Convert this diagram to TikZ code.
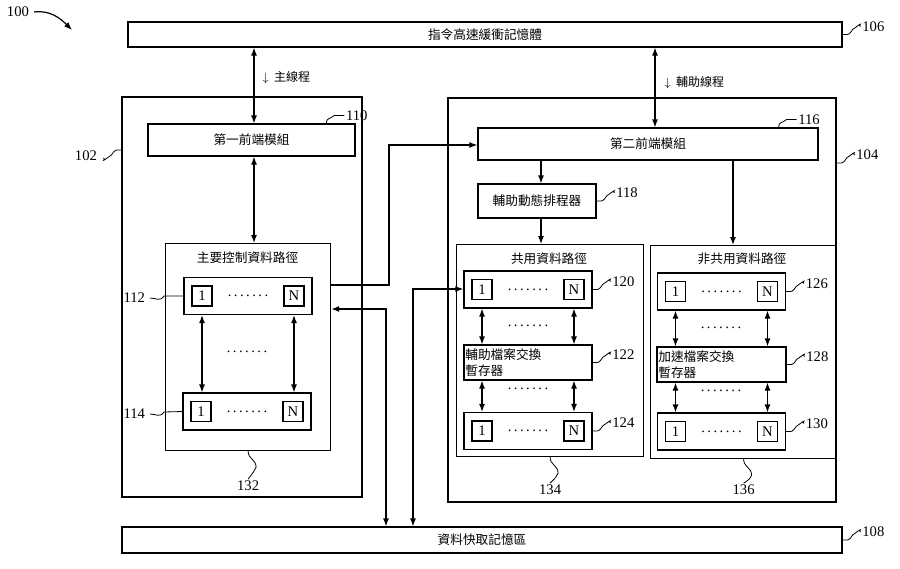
\documentclass[tikz,border=0pt]{standalone}
\usepackage{fontspec}
\setmainfont{Liberation Serif}
\newfontfamily\cjk{Noto Sans CJK TC}
\usetikzlibrary{arrows.meta}
\begin{document}
\begin{tikzpicture}[x=0.75pt,y=-0.75pt,line width=0.9pt,
  box/.style={draw,rectangle,inner sep=0pt,font=\cjk\fontsize{9.5}{12}\selectfont},
  sq/.style={draw,rectangle,minimum size=15pt,inner sep=0pt,font=\fontsize{11}{12}\selectfont},
  num/.style={font=\fontsize{11}{12}\selectfont},
  arr/.style={-{Latex[length=6pt,width=4.5pt]}},
  darr/.style={{Latex[length=6pt,width=4.5pt]}-{Latex[length=6pt,width=4.5pt]}},
  lead/.style={line width=0.6pt}]
\useasboundingbox (0,0) rectangle (900,568);
\fill[white] (0,0) rectangle (900,568);
\newcommand\mkbox[6]{\node[box,minimum width=#4*0.75pt,minimum height=#5*0.75pt] (#1) at (#2,#3) {#6};}
\newcommand\mkrow[3]{%
  \node[draw,rectangle,minimum width=128*0.75pt,minimum height=37*0.75pt,inner sep=0pt] (#1) at (#2,#3) {};
  \node[sq,anchor=west] (#1a) at ([xshift=6pt]#1.west) {1};
  \node[sq,anchor=east] (#1b) at ([xshift=-6pt]#1.east) {N};
  \node[num] (#1d) at (#1) {.\,.\,.\,.\,.\,.\,.};}
\newcommand\lead[2]{\draw[lead] (#1) .. controls +(6,0) and +(-4,6) .. +(10,-5) .. controls +(14,-10) and +(-4,0) .. +(18,-8) node[num,anchor=west,inner sep=1pt] {#2};}
% bars
\mkbox{m106}{485}{34.5}{714}{25}{指令高速緩衝記憶體}
\mkbox{m108}{482}{540}{720}{26}{資料快取記憶區}
\lead{m106.east}{106}
\lead{m108.east}{108}
% big boxes
\mkbox{m102}{242}{297}{240}{400}{}
\mkbox{m104}{642}{300}{388}{404}{}
\draw[lead] (m102.west|-0,150) .. controls +(-6,0) and +(4,-6) .. +(-10,5) .. controls +(-14,10) and +(4,0) .. +(-18,8);
\node[num,anchor=east] (l102) at (102,156) {102};
\lead{m104.east|-0,163}{104}
% 100
\node[num] (l100) at (18,12) {100};
\coordinate (p100) at (72,30);
\draw[arr] (l100.east) .. controls (50,10) and (60,18) .. (p100);
% front ends
\mkbox{m110}{251.5}{140}{207}{32}{第一前端模組}
\mkbox{m116}{648}{144}{340}{32}{第二前端模組}
\mkbox{m118}{537}{201}{118}{34}{輔助動態排程器}
\draw[lead] ([xshift=-22pt]m110.north east) .. controls +(0,-6) and +(-4,4) .. +(8,-8) -- +(18,-8) node[num,anchor=west,inner sep=1pt] {110};
\draw[lead] ([xshift=-30pt]m116.north east) .. controls +(0,-6) and +(-4,4) .. +(8,-8) -- +(18,-8) node[num,anchor=west,inner sep=1pt] {116};
\lead{m118.east}{118}
% threads
\draw[darr] (m106.south-|254,0) -- (m110.north-|254,0);
\node[box,draw=none,anchor=west] (t1) at (262,78) {\fontsize{9}{10}\selectfont$\downarrow$\ \ 主線程};
\draw[darr] (m106.south-|655,0) -- (m116.north-|655,0);
\node[box,draw=none,anchor=west] (t2) at (664,83) {\fontsize{9}{10}\selectfont$\downarrow$\ \ 輔助線程};
% path 132
\node[box,minimum width=165*0.75pt,minimum height=207*0.75pt,anchor=north west] (m132) at (165,243) {};
\node[box,draw=none] (h132) at (247.5,258) {主要控制資料路徑};
\mkrow{r112}{248}{296}
\mkrow{r114}{247}{411.5}
\node[num,anchor=east] (l112) at (150,298) {112};
\draw[lead] (l112.east) .. controls +(6,0) and +(-4,6) .. +(14,-2) -- (r112.west);
\node[num,anchor=east] (l114) at (150,414) {114};
\draw[lead] (l114.east) .. controls +(6,0) and +(-4,6) .. +(14,-2) -- (r114.west);
\node[num] (d132) at (247,352) {.\,.\,.\,.\,.\,.\,.};
\draw[darr] (r112a.south|-r112.south) -- (r112a.south|-r114.north);
\draw[darr] (r112b.south|-r112.south) -- (r112b.south|-r114.north);
\draw[darr] (m110.south-|254,0) -- (m132.north-|254,0);
\draw[lead] (m132.south) .. controls +(0,8) and +(0,-8) .. +(8,16) .. controls +(-2,4) .. +(0,28) node[num,anchor=north,inner sep=1pt] {132};
% shared 134 / 136
\node[box,minimum width=187*0.75pt,minimum height=212*0.75pt,anchor=north west] (m134) at (456,244) {};
\node[box,draw=none] (h134) at (549,259) {共用資料路徑};
\node[box,minimum width=186*0.75pt,minimum height=213*0.75pt,anchor=north west] (m136) at (650,245) {};
\node[box,draw=none] (h136) at (742,259) {非共用資料路徑};
\mkrow{r120}{528}{289.5}
\lead{r120.east}{120}
\node[draw,rectangle,minimum width=128*0.75pt,minimum height=35*0.75pt,inner sep=0pt] (r122) at (528,362.5) {};
\node[box,draw=none,anchor=west,align=left] (t122) at ([xshift=1pt]r122.west) {輔助檔案交換\\暫存器};
\lead{r122.east}{122}
\mkrow{r124}{528}{431}
\lead{r124.east}{124}
\mkrow{r126}{721.5}{291.5}
\lead{r126.east}{126}
\node[draw,rectangle,minimum width=129*0.75pt,minimum height=35*0.75pt,inner sep=0pt] (r128) at (721.5,364.5) {};
\node[box,draw=none,anchor=west,align=left] (t128) at ([xshift=1pt]r128.west) {加速檔案交換\\暫存器};
\lead{r128.east}{128}
\mkrow{r130}{721.5}{431.5}
\lead{r130.east}{130}
\foreach \a/\b/\c in {r120/r122/r120,r122/r124/r124,r126/r128/r126,r128/r130/r130}{
  \draw[darr] (\c a.south|-\a.south) -- (\c a.south|-\b.north);
  \draw[darr] (\c b.south|-\a.south) -- (\c b.south|-\b.north);}
\node[num] (d1) at (528,326) {.\,.\,.\,.\,.\,.\,.};
\node[num] (d2) at (528,389) {.\,.\,.\,.\,.\,.\,.};
\node[num] (d3) at (721,328) {.\,.\,.\,.\,.\,.\,.};
\node[num] (d4) at (721,391) {.\,.\,.\,.\,.\,.\,.};
\draw[lead] (m134.south) .. controls +(0,8) and +(0,-8) .. +(8,16) .. controls +(-2,4) .. +(0,26) node[num,anchor=north,inner sep=1pt] {134};
\draw[lead] (m136.south) .. controls +(0,8) and +(0,-8) .. +(8,16) .. controls +(-2,4) .. +(0,24) node[num,anchor=north,inner sep=1pt] {136};
% internal arrows
\draw[arr] (m116.south-|541,0) -- (m118.north-|541,0);
\draw[arr] (m118.south-|541,0) -- (m134.north-|541,0);
\draw[arr] (m116.south-|733,0) -- (m136.north-|733,0);
% cross connections
\draw[arr] (m132.east|-0,285) -| (389,145) -- (m116.west|-0,145);
\draw[darr] (m132.east|-0,309) -| (m108.north-|386,0);
\draw[darr] (m108.north-|413,0) |- (r120.west|-0,289);
\end{tikzpicture}
\end{document}
